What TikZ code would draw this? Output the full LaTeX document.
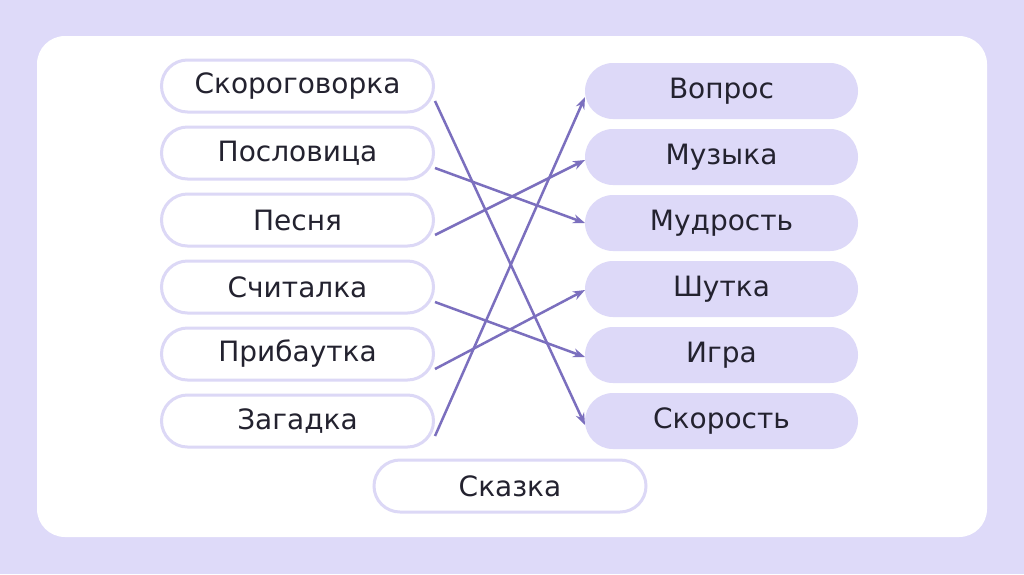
\documentclass[tikz,border=0pt]{standalone}
\usepackage{fontspec}
\setmainfont{DejaVu Sans}
\usetikzlibrary{arrows.meta,positioning}
\definecolor{pagebg}{RGB}{222,218,249}
\definecolor{boxline}{RGB}{220,216,246}
\definecolor{boxfill}{RGB}{221,217,248}
\definecolor{linkline}{RGB}{123,111,190}
\definecolor{inktext}{RGB}{35,34,47}

\begin{document}
\begin{tikzpicture}[x=1pt, y=-1pt, >={Stealth[length=12pt,width=9pt]}, node distance=12pt,
  leftbox/.style={draw=boxline, line width=3pt, fill=white, rounded corners=26pt, minimum width=272pt, minimum height=52pt, inner sep=0pt, text=inktext, font=\fontsize{28}{32}\selectfont},
  rightbox/.style={fill=boxfill, rounded corners=28pt, minimum width=273pt, minimum height=56pt, inner sep=0pt, outer sep=0pt, text=inktext, font=\fontsize{28}{32}\selectfont},
  link/.style={->, draw=linkline, line width=2.5pt}]
  % page and white panel
  \fill[pagebg] (0,0) rectangle (1024,574);
  \fill[white, rounded corners=28pt] (37,36) rectangle (987,537);

  % left column
  \node[leftbox] (l1) at (297.5,86) {Скороговорка};
  \node[leftbox, below=12pt of l1] (l2) {Пословица};
  \node[leftbox, below=12pt of l2] (l3) {Песня};
  \node[leftbox, below=12pt of l3] (l4) {Считалка};
  \node[leftbox, below=12pt of l4] (l5) {Прибаутка};
  \node[leftbox, below=12pt of l5] (l6) {Загадка};
  \node[leftbox] (extra) at (510,486) {Сказка};

  % right column
  \node[rightbox] (r1) at (721.5,91) {Вопрос};
  \node[rightbox, below=10pt of r1] (r2) {Музыка};
  \node[rightbox, below=10pt of r2] (r3) {Мудрость};
  \node[rightbox, below=10pt of r3] (r4) {Шутка};
  \node[rightbox, below=10pt of r4] (r5) {Игра};
  \node[rightbox, below=10pt of r5] (r6) {Скорость};

  % matches
  \draw[link] ([yshift=-15pt]l1.east) -- ([yshift=-4pt]r6.west);
  \draw[link] ([yshift=-15pt]l2.east) -- ([yshift=0pt]r3.west);
  \draw[link] ([yshift=-15pt]l3.east) -- ([yshift=-3pt]r2.west);
  \draw[link] ([yshift=-15pt]l4.east) -- ([yshift=-2pt]r5.west);
  \draw[link] ([yshift=-15pt]l5.east) -- ([yshift=-1pt]r4.west);
  \draw[link] ([yshift=-15pt]l6.east) -- ([yshift=-6pt]r1.west);
\end{tikzpicture}
\end{document}
